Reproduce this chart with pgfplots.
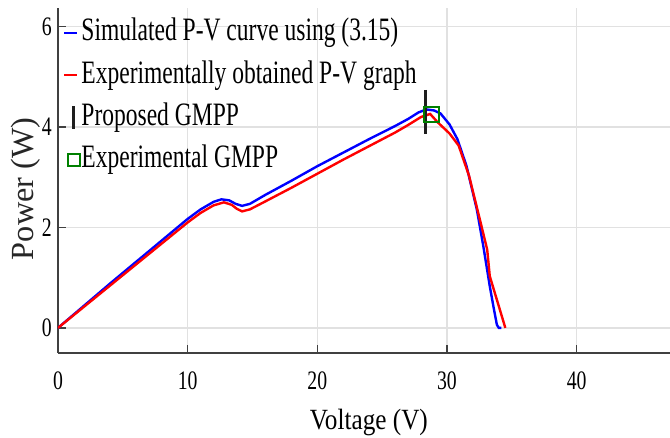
\documentclass[border=0pt]{standalone}
\usepackage{fontspec}
\setmainfont{Liberation Serif}
\newfontfamily\condfont{Liberation Serif}[FakeStretch=0.72]
\newfontfamily\xlabfont{Liberation Serif}[FakeStretch=0.86]
\newfontfamily\tickfont{Liberation Serif}[FakeStretch=0.74]
\usepackage{pgfplots}
\pgfplotsset{compat=1.18}
\definecolor{axgray}{RGB}{64,64,64}
\definecolor{gridgray}{RGB}{225,225,225}
\definecolor{mgreen}{RGB}{0,128,0}
\definecolor{barblack}{RGB}{30,30,30}
\begin{document}
\begin{tikzpicture}
\useasboundingbox (-43.5pt,-63.75pt) rectangle (459pt,264.75pt);
\begin{axis}[
  scale only axis, width=459pt, height=258.75pt,
  at={(0,0)}, anchor=south west,
  xmin=0, xmax=47.2, ymin=-0.5, ymax=6.37,
  axis x line=bottom, axis y line=left,
  axis line style={axgray, line width=1.5pt, -},
  xtick={0,10,20,30,40}, ytick={0,2,4,6},
  tick style={axgray, line width=1.2pt},
  major tick length=6pt, tick align=inside,
  grid=major, grid style={gridgray, line width=1.1pt},
  ticklabel style={font=\tickfont\fontsize{20}{22}\selectfont},
  /pgf/number format/assume math mode=true,
  x tick label style={anchor=center, yshift=-20.5pt},
  y tick label style={anchor=east, inner xsep=1pt, xshift=-3.5pt},
  xlabel={Voltage (V)},
  ylabel={Power (W)},
  x label style={at={(axis description cs:0.508,-0.2)}, anchor=center, font=\xlabfont\fontsize{22}{24}\selectfont},
  y label style={at={(axis description cs:-0.0523,0.476)}, anchor=center, rotate=0, font=\fontsize{24.2}{26}\selectfont, text=black!85},
  legend style={at={(axis description cs:0,1)}, anchor=north west, xshift=0.75pt, yshift=-5.5pt,
    draw=none, fill=none, font=\condfont\fontsize{24.5}{26}\selectfont,
    nodes={inner sep=0pt, text height=17pt, text depth=5pt},
    row sep=9.75pt,
    /tikz/every even column/.append style={column sep=1pt}},
  legend cell align=left,
]
\addplot[blue, line width=1.8pt, legend image code/.code={\path[draw=none,fill=none] (0pt,-9pt) rectangle (12.4pt,9pt); \draw[blue, line width=1.8pt] (0pt,0pt) -- (9.75pt,0pt);}] coordinates {
(0,0) (2,0.44) (4,0.88) (6,1.31) (8,1.74) (10,2.17) (11,2.36) (12,2.51) (12.6,2.56) (13.2,2.54) (13.7,2.47) (14.2,2.43) (14.8,2.47) (16,2.65) (18,2.93) (20,3.22) (22,3.49) (24,3.76) (26,4.02) (27,4.16) (27.8,4.29) (28.4,4.35) (29,4.33) (29.5,4.27) (30.2,4.05) (30.8,3.76) (31.5,3.23) (32.3,2.36) (32.8,1.63) (33.3,0.83) (33.6,0.4) (33.85,0.06) (34.0,0.0) (34.2,0.0)
};
\addlegendentry{Simulated P-V curve using (3.15)}
\addplot[red, line width=1.8pt, legend image code/.code={\path[draw=none,fill=none] (0pt,-9pt) rectangle (12.4pt,9pt); \draw[red, line width=1.8pt] (0pt,0pt) -- (9.75pt,0pt);}] coordinates {
(0,0) (2,0.42) (4,0.84) (6,1.26) (8,1.68) (10,2.10) (11,2.29) (12,2.44) (12.8,2.50) (13.4,2.45) (13.8,2.37) (14.2,2.32) (14.8,2.36) (16,2.52) (18,2.79) (20,3.07) (22,3.35) (24,3.62) (26,3.89) (27,4.04) (28,4.2) (28.7,4.26) (29.3,4.09) (30.2,3.87) (30.9,3.63) (31.7,3.03) (32.6,2.09) (33.1,1.56) (33.3,1.03) (34.5,0)
};
\addlegendentry{Experimentally obtained P-V graph}
\addplot[barblack, line width=2.25pt, only marks, mark=|, mark size=16.5pt, legend image code/.code={\path[draw=none,fill=none] (0pt,-9pt) rectangle (12.4pt,9pt); \draw[barblack, line width=2.25pt] (7pt,-8.5pt) -- (7pt,8.5pt);}] coordinates {(28.35,4.3)};
\addlegendentry{Proposed GMPP}
\addplot[mgreen, line width=1.5pt, only marks, mark=square, mark size=5.6pt, legend image code/.code={\path[draw=none,fill=none] (0pt,-9pt) rectangle (12.4pt,9pt); \draw[mgreen, line width=1.5pt] (3pt,-4.5pt) rectangle (12pt,4.5pt);}] coordinates {(28.8,4.25)};
\addlegendentry{Experimental GMPP}
\end{axis}
\end{tikzpicture}
\end{document}
